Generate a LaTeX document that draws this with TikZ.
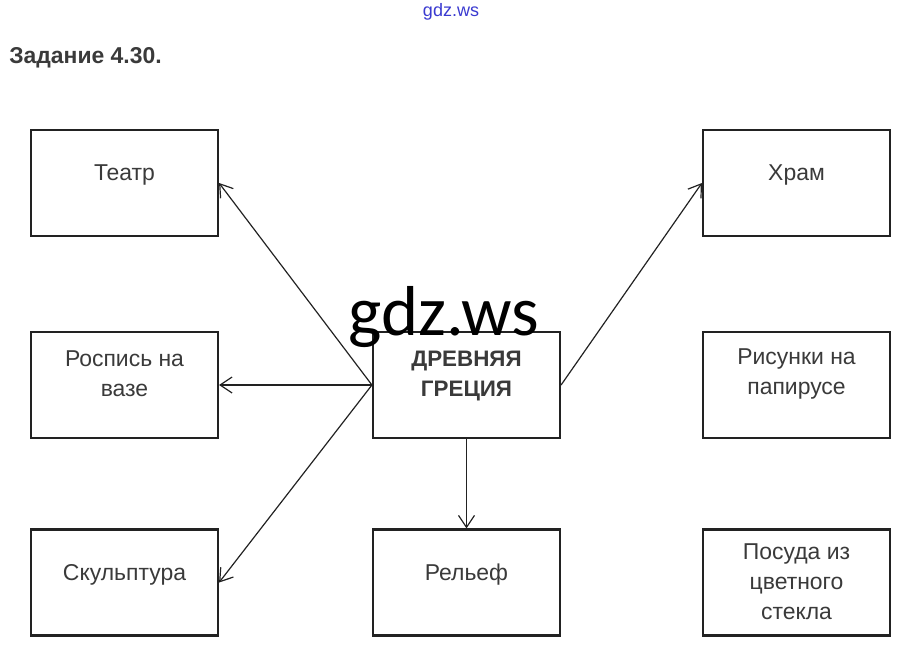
\documentclass[tikz,border=0pt]{standalone}
\usepackage{fontspec}
\setmainfont{Liberation Sans}
\newfontfamily\wmfont{Carlito}
\usetikzlibrary{arrows.meta}
\definecolor{txt}{HTML}{3A3A3A}
\definecolor{bord}{HTML}{222222}
\definecolor{wmblue}{HTML}{3A3AD0}
\tikzset{
  box/.style={draw=bord, line width=1.6pt, minimum width=140.25pt, minimum height=79.5pt, inner sep=0pt, fill=white},
  lbl/.style={text=txt, font=\fontsize{17.2pt}{22.5pt}\selectfont, align=center, inner sep=0pt},
  clbl/.style={text=txt, font=\fontsize{16.8pt}{22.5pt}\selectfont\bfseries, align=center, inner sep=0pt},
  conn/.style={draw=bord, line width=0.9pt, -{Straight Barb[length=9pt,width=12pt,line width=0.9pt]}},
}
\begin{document}
\begin{tikzpicture}[x=0.75pt,y=-0.75pt]
\useasboundingbox (0,0) rectangle (902,649);
% watermark top
\node[text=wmblue, font=\fontsize{13.5pt}{15pt}\selectfont, inner sep=0pt] (wm1) at (451,12) {gdz.ws};
% title
\node[text=txt, font=\fontsize{17.2pt}{20pt}\selectfont\bfseries, anchor=base west, inner sep=0pt] (title) at (9,63.5) {Задание 4.30.};
% boxes
\node[box] (teatr) at (124.5,183) {};
\node[box] (rospis) at (124.5,385) {};
\node[box] (skulp) at (124.5,582.5) {};
\node[box] (cent) at (466.5,385) {};
\node[box] (relief) at (466.5,582.5) {};
\node[box] (hram) at (796.5,183) {};
\node[box] (risunki) at (796.5,385) {};
\node[box] (posuda) at (796.5,582.5) {};
% labels
\node[lbl] (tteatr) at (124.5,174.5) {Театр};
\node[lbl] (trospis) at (124.5,374) {Роспись на\\вазе};
\node[lbl] (tskulp) at (124.5,574.5) {Скульптура};
\node[clbl] (tcent) at (466.5,376.5) {ДРЕВНЯЯ\\ГРЕЦИЯ};
\node[lbl] (trelief) at (466.5,574.5) {Рельеф};
\node[lbl] (thram) at (796.5,174.5) {Храм};
\node[lbl] (trisunki) at (796.5,374) {Рисунки на\\папирусе};
\node[lbl] (tposuda) at (796.5,582) {Посуда из\\цветного\\стекла};
% connectors
\draw[conn] (cent.west) -- (teatr.east);
\draw[conn] (cent.west) -- (rospis.east);
\draw[conn] (cent.west) -- (skulp.east);
\draw[conn] (cent.east) -- (hram.west);
\draw[conn] (cent.south) -- (relief.north);
% big watermark
\node[font=\wmfont\fontsize{53pt}{55pt}\selectfont, text=black, anchor=base, inner sep=0pt] (wm2) at (444,335) {gdz.ws};
\end{tikzpicture}
\end{document}
